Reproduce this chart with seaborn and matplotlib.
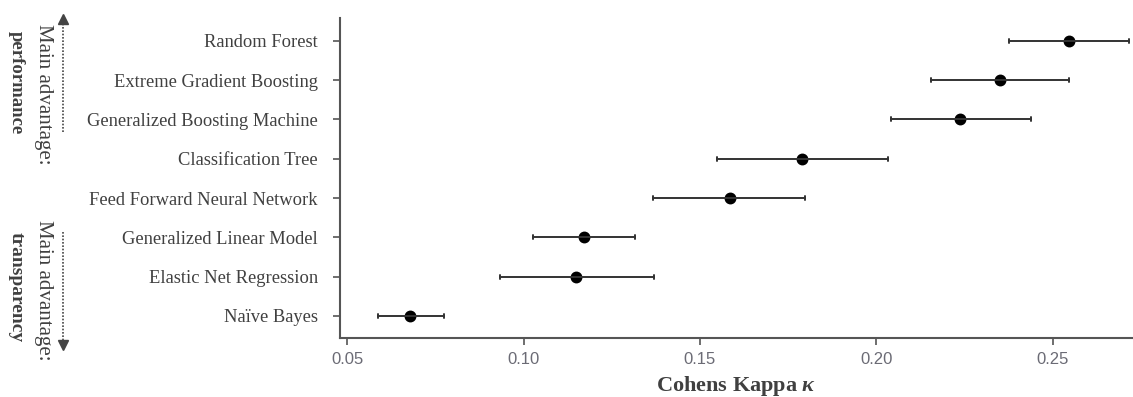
import matplotlib
matplotlib.use("Agg")
import matplotlib.pyplot as plt
from matplotlib.lines import Line2D
import seaborn as sns
import pandas as pd

models = ["Random Forest", "Extreme Gradient Boosting", "Generalized Boosting Machine",
          "Classification Tree", "Feed Forward Neural Network", "Generalized Linear Model",
          "Elastic Net Regression", "Naïve Bayes"]
kappa = [0.2546, 0.2351, 0.2237, 0.1788, 0.1585, 0.1171, 0.1150, 0.0678]
lower = [0.2375, 0.2156, 0.2040, 0.1547, 0.1368, 0.1026, 0.0933, 0.0587]
upper = [0.2715, 0.2547, 0.2438, 0.2032, 0.1797, 0.1316, 0.1371, 0.0776]
xticks = [0.05, 0.10, 0.15, 0.20, 0.25]

rows = []
for m, k, lo, hi in zip(models, kappa, lower, upper):
    for v in (lo, k, hi):
        rows.append({"model": m, "kappa": v})
df = pd.DataFrame(rows)

sns.set_theme(style="white")
plt.rcParams["mathtext.fontset"] = "custom"
plt.rcParams["mathtext.it"] = "Liberation Serif:bold:italic"
plt.rcParams["mathtext.rm"] = "Liberation Serif:bold"
plt.rcParams["mathtext.bf"] = "Liberation Serif:bold"

W, H = 1133, 397
fig = plt.figure(figsize=(W / 100, H / 100), dpi=100)
ax = fig.add_axes([340 / W, 1 - 338 / H, 1 - 340 / W, (338 - 18) / H])

sns.pointplot(data=df, x="kappa", y="model", order=models, orient="h",
              estimator="median", errorbar=("pi", 100), linestyle="none",
              marker="o", markersize=6.5, color="black", capsize=0.1,
              err_kws={"color": "#333333", "linewidth": 1.4}, ax=ax)

ax.set_xlim(0.048, 0.2727)
ax.set_ylim(7.56, -0.58)
ax.set_xticks(xticks)
ax.set_xticklabels([f"{t:.2f}" for t in xticks])

for s in ["top", "right"]:
    ax.spines[s].set_visible(False)
for s in ["left", "bottom"]:
    ax.spines[s].set_color("#555555")
    ax.spines[s].set_linewidth(1.5)

ax.tick_params(axis="y", left=True, length=5, width=1.2, color="#555555", pad=11,
               labelsize=13.3, labelcolor="#404040")
ax.tick_params(axis="x", bottom=True, length=5, width=1.2, color="#555555", pad=5,
               labelsize=12, labelcolor="#6b6b75")
for lab in ax.get_yticklabels():
    lab.set_fontfamily("Liberation Serif")
for lab in ax.get_xticklabels():
    lab.set_fontfamily("Liberation Sans")

ax.set_ylabel("")
ax.set_xlabel("Cohens Kappa $\\mathit{\\kappa}$", fontfamily="Liberation Serif",
              fontweight="bold", fontsize=16, color="#404040", labelpad=5)

# left annotations
def fy(py):
    return 1 - py / H

def fx(px):
    return px / W

tc = "#404040"
fig.text(fx(43), fy(94), "Main advantage:", rotation=270, ha="center", va="center",
         fontsize=15, family="Liberation Serif", color=tc)
fig.text(fx(16), fy(83), "performance", rotation=270, ha="center", va="center",
         fontsize=13.5, family="Liberation Serif", fontweight="bold", color=tc)
fig.text(fx(43), fy(290), "Main advantage:", rotation=270, ha="center", va="center",
         fontsize=15, family="Liberation Serif", color=tc)
fig.text(fx(16), fy(287), "transparency", rotation=270, ha="center", va="center",
         fontsize=14, family="Liberation Serif", fontweight="bold", color=tc)

ac = "#444444"
fig.add_artist(Line2D([fx(63), fx(63)], [fy(132), fy(20)], linestyle=(0, (1, 1)),
                      linewidth=1.2, color=ac))
fig.add_artist(Line2D([fx(63)], [fy(19)], marker="^", markersize=7, color=ac,
                      linestyle="none"))
fig.add_artist(Line2D([fx(63), fx(63)], [fy(232), fy(344)], linestyle=(0, (1, 1)),
                      linewidth=1.2, color=ac))
fig.add_artist(Line2D([fx(63)], [fy(345)], marker="v", markersize=7, color=ac,
                      linestyle="none"))

fig.savefig("out.png", dpi=100)
